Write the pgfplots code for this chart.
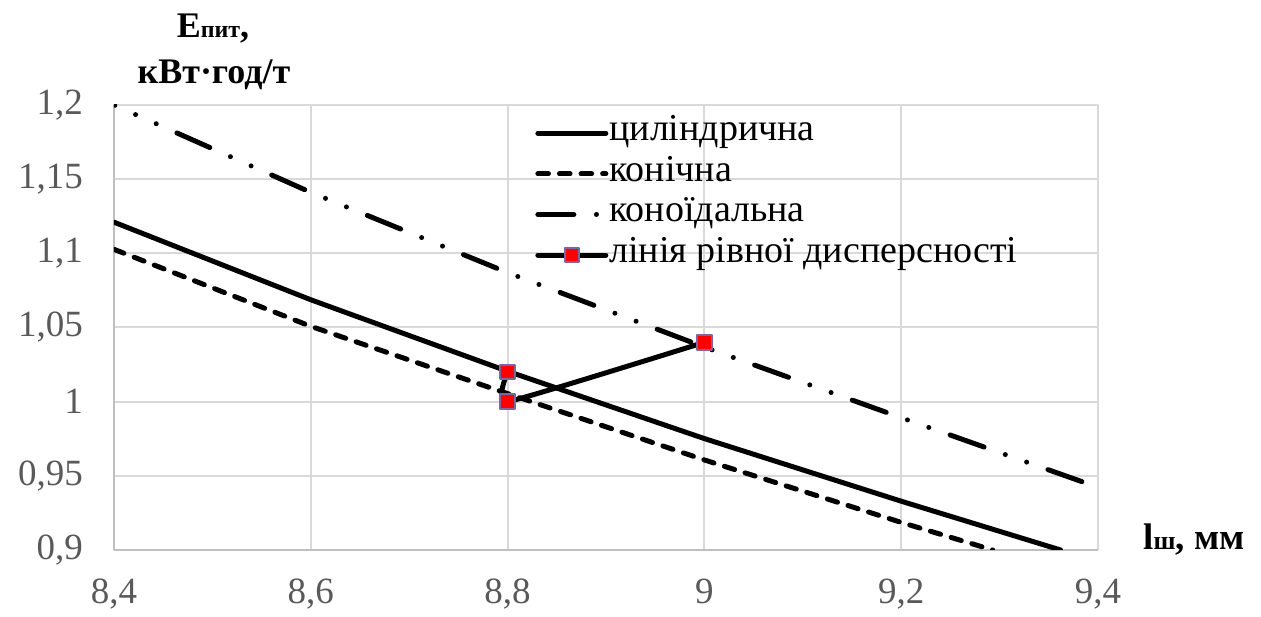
\documentclass[border=0pt]{standalone}
\usepackage{pgfplots}
\pgfplotsset{compat=1.18}
\usepackage{fontspec}
\setmainfont{Liberation Serif}

\definecolor{gridgray}{HTML}{D9D9D9}
\definecolor{axisgray}{HTML}{BFBFBF}
\definecolor{tickgray}{HTML}{595959}
\definecolor{markborder}{HTML}{8064A2}

\begin{document}
\begin{tikzpicture}
\begin{axis}[
  scale only axis,
  width=492pt, height=222.5pt,
  xmin=8.4, xmax=9.4, ymin=0.9, ymax=1.2,
  xtick={8.4,8.6,8.8,9.0,9.2,9.4},
  ytick={0.9,0.95,1,1.05,1.1,1.15,1.2},
  grid=major,
  major grid style={draw=gridgray, line width=1pt},
  axis x line*=bottom, axis y line*=left,
  axis line style={draw=axisgray, line width=1pt, -},
  major tick length=0pt,
  /pgf/number format/use comma,
  /pgf/number format/fixed,
  /pgf/number format/precision=2,
  /pgf/number format/assume math mode=true,
  tick label style={font=\fontsize{18.5}{22}\selectfont, text=tickgray},
  xticklabel shift=11pt,
  yticklabel shift=12pt,
  clip mode=individual,
  legend cell align=left,
  legend style={draw=none, fill=none,
    at={(axis description cs:0.4217,0.992)}, anchor=north west,
    font=\fontsize{19}{22}\selectfont,
    nodes={inner xsep=0.5pt, inner ysep=0pt, text height=13.8pt, text depth=6.5pt},
    /tikz/every even column/.append style={column sep=0pt}},
  legend image code/.code={
    \draw[mark repeat=2, mark phase=2] plot coordinates {(0pt,0pt) (17pt,0pt) (34pt,0pt)};},
  every axis plot/.append style={line width=2.5pt, line cap=round, line join=round},
]

% cylindrical chamber
\addplot[black, no marks] coordinates {
  (8.4,1.121) (8.6,1.0687) (8.8,1.0205) (9.0,0.9751) (9.2,0.9329) (9.362,0.9)
};
\addlegendentry{циліндрична}

% conical chamber
\addplot[black, no marks, dash pattern=on 5.3pt off 5.5pt] coordinates {
  (8.4,1.1027) (8.6,1.0508) (8.8,1.0054) (9.0,0.9607) (9.2,0.9186) (9.293,0.9)
};
\addlegendentry{конічна}

% conoidal chamber
\addplot[black, no marks,
  dash pattern=on 18pt off 11.3pt on 0pt off 11.3pt on 0pt off 11.3pt,
  dash phase=17.5pt,
  legend image code/.code={
    \draw[dash phase=0pt] (0pt,0pt) -- (34pt,0pt);}] coordinates {
  (8.4,1.2) (8.6,1.1411) (8.8,1.087) (9.0,1.0368) (9.2,0.9892) (9.384,0.946)
};
\addlegendentry{коноїдальна}

% line of equal dispersion
\addplot[black, smooth, tension=0.25, mark=square*, mark size=3.6pt,
  mark options={solid, fill=red, draw=markborder, line width=1pt}] coordinates {
  (8.8,1.02) (8.8,1.0) (9.0,1.04)
};
\addlegendentry{лінія рівної дисперсності}

% axis titles
\node[anchor=base, font=\fontsize{18}{20}\selectfont\bfseries]
  at (axis description cs:0.1006,1.1528)
  {E{\fontsize{12}{12}\selectfont пит},};
\node[anchor=base, font=\fontsize{18}{20}\selectfont\bfseries]
  at (axis description cs:0.1016,1.0472) {кВт·год/т};
\node[anchor=base west, font=\fontsize{18.5}{20}\selectfont\bfseries, inner xsep=0pt]
  at (axis description cs:1.0457,0) {l{\fontsize{13}{13}\selectfont ш}, мм};

% page frame
\path (axis description cs:-0.11585,1.23596) rectangle (axis description cs:1.16565,-0.14607);
\end{axis}
\end{tikzpicture}
\end{document}
